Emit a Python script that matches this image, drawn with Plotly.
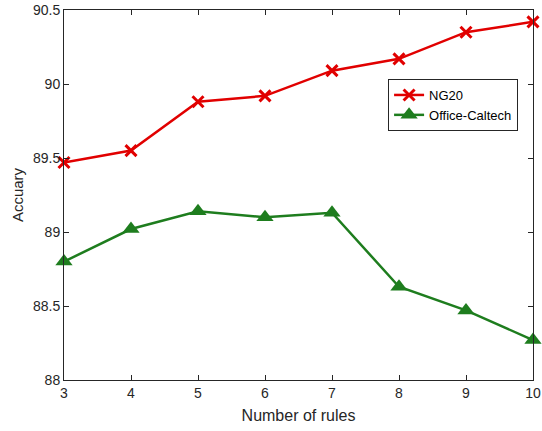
import plotly.graph_objects as go

rules = [3, 4, 5, 6, 7, 8, 9, 10]
ng20 = [89.47, 89.55, 89.88, 89.92, 90.09, 90.17, 90.35, 90.42]
office_caltech = [88.80, 89.02, 89.14, 89.10, 89.13, 88.63, 88.47, 88.27]
x_ticks = [3, 4, 5, 6, 7, 8, 9, 10]
y_ticks = [88, 88.5, 89, 89.5, 90, 90.5]
y_tick_text = ["88", "88.5", "89", "89.5", "90", "90.5"]

red = "rgb(225,0,0)"
green = "rgb(30,125,30)"
font = "Liberation Sans, Arial, sans-serif"

fig = go.Figure()
fig.add_trace(go.Scatter(
    x=rules, y=ng20, name="NG20", mode="lines+markers", cliponaxis=False,
    line=dict(color=red, width=2.5),
    marker=dict(symbol="x-thin", size=11, color=red, line=dict(color=red, width=3)),
))
fig.add_trace(go.Scatter(
    x=rules, y=office_caltech, name="Office-Caltech", mode="lines+markers", cliponaxis=False,
    line=dict(color=green, width=2.5),
    marker=dict(symbol="triangle-up", size=15, color=green),
))

axis_common = dict(
    showline=True, linecolor="#262626", linewidth=1, mirror="ticks",
    ticks="inside", ticklen=5, tickcolor="#262626", showgrid=False, zeroline=False,
    tickfont=dict(family=font, size=14, color="#262626"), automargin=False,
)
fig.update_xaxes(range=[3, 10], tickvals=x_ticks,
                 title=dict(text="Number of rules", font=dict(family=font, size=16, color="#262626"), standoff=10),
                 **axis_common)
fig.update_yaxes(range=[88, 90.5], tickvals=y_ticks, ticktext=y_tick_text,
                 title=dict(text="Accuary", font=dict(family=font, size=15, color="#262626"), standoff=5),
                 **axis_common)

fig.update_layout(
    width=542, height=431,
    margin=dict(l=64, r=9, t=10, b=51),
    paper_bgcolor="white", plot_bgcolor="white",
    showlegend=True,
    legend=dict(x=0.691, y=0.8135, xanchor="left", yanchor="top",
                bgcolor="white", bordercolor="#262626", borderwidth=1,
                font=dict(family=font, size=13, color="black"),
                tracegroupgap=0, itemwidth=30),
)

fig.write_html(
    "out.html",
    config={"displayModeBar": False},
    post_script="document.body.style.margin='0';document.body.style.overflow='hidden';",
)
